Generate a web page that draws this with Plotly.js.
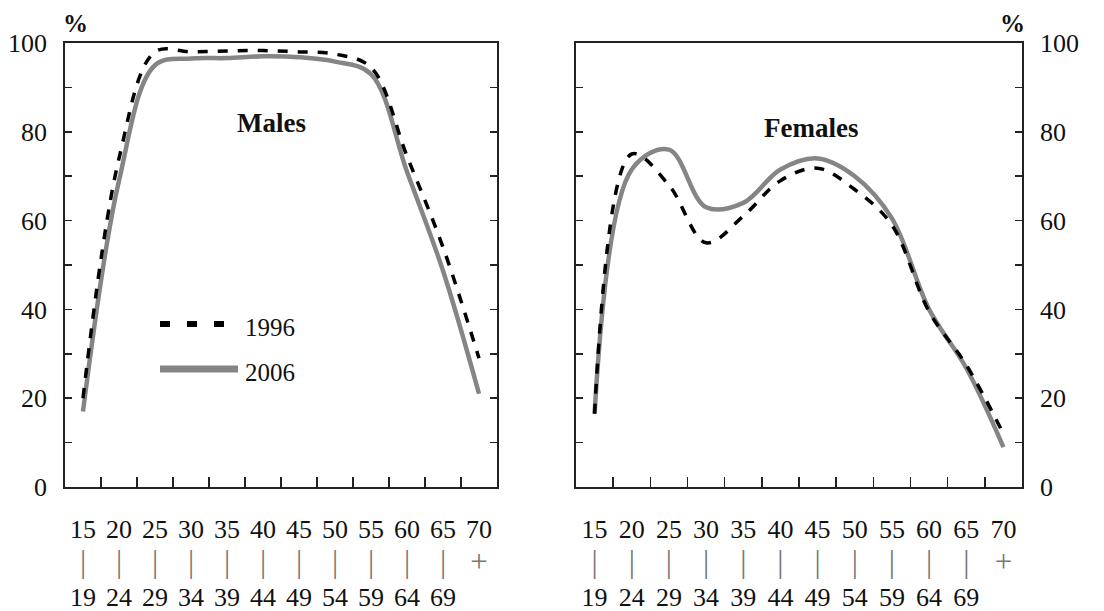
<!DOCTYPE html>
<html><head><meta charset="utf-8">
<script src="https://cdn.plot.ly/plotly-3.0.1.min.js"></script>
<style>html,body{margin:0;padding:0;background:#fff}#chart{width:1104px;height:611px}</style>
</head><body><div id="chart"></div>
<script>
// ---- data ----
const ageGroups = ['15-19','20-24','25-29','30-34','35-39','40-44','45-49','50-54','55-59','60-64','65-69','70+'];
const ageFrom = ['15','20','25','30','35','40','45','50','55','60','65','70'];
const ageTo = ['19','24','29','34','39','44','49','54','59','64','69',''];
const males1996 = [20, 74, 98, 98, 98.2, 98.3, 98, 97.5, 94.5, 74.5, 54, 29];
const males2006 = [17, 69, 95, 96.5, 96.6, 97, 96.8, 95.8, 93, 71, 48.7, 21];
const females1996 = [16.5, 75, 68, 55, 61, 69, 71.8, 67, 59, 39.5, 27.5, 12];
const females2006 = [16.5, 71.5, 76, 63, 64, 71.5, 74, 70, 60.5, 40, 26.8, 9];
const years = ['1996', '2006'];
const panelTitles = ['Males', 'Females'];
const yTicks = [0, 20, 40, 60, 80, 100];

// ---- build ----
const W = 1104, H = 611;
const px = v => v / W, py = v => 1 - v / H;
const ticktext = ageFrom.map((a, i) =>
  a + '<br><span style="color:#777;font-size:31px">' + (ageTo[i] ? '|' : '+') + '</span><br>' + (ageTo[i] || ' '));

const serif = 'Liberation Serif, Times New Roman, serif';
const gray = '#858585';
const dashStyle = {color: '#000', width: 3.5, dash: '10px,10px', shape: 'spline', smoothing: 1};
const solidStyle = {color: gray, width: 4.5, shape: 'spline', smoothing: 1};

const traces = [
  {x: ageGroups, y: males2006, name: years[1], mode: 'lines', line: solidStyle, xaxis: 'x', yaxis: 'y'},
  {x: ageGroups, y: males1996, name: years[0], mode: 'lines', line: dashStyle, xaxis: 'x', yaxis: 'y'},
  {x: ageGroups, y: females2006, name: years[1], mode: 'lines', line: solidStyle, xaxis: 'x2', yaxis: 'y2'},
  {x: ageGroups, y: females1996, name: years[0], mode: 'lines', line: dashStyle, xaxis: 'x2', yaxis: 'y2'}
];

function xAxis(d0, d1, anchor) {
  return {
    domain: [px(d0), px(d1)], anchor: anchor, type: 'category',
    range: [-0.5, 11.5], tickson: 'boundaries',
    tickmode: 'array', tickvals: ageGroups, ticktext: ticktext,
    ticks: 'inside', ticklen: 10, tickwidth: 1.5, tickcolor: '#222',
    showline: true, linecolor: '#222', linewidth: 1.8, mirror: true,
    showgrid: false, zeroline: false, fixedrange: true,
    tickfont: {family: serif, size: 26, color: '#111'}, ticklabelstandoff: 18
  };
}
function yAxis(anchor, side) {
  return {
    domain: [1 - 487 / H, 1 - 43 / H], anchor: anchor, side: side,
    range: [0, 100], tickmode: 'array', tickvals: yTicks,
    ticks: 'inside', ticklen: 7, tickwidth: 1.5, tickcolor: '#222',
    minor: {dtick: 10, tick0: 0, ticks: 'inside', ticklen: 7, tickwidth: 1.5, tickcolor: '#222'},
    showline: true, linecolor: '#222', linewidth: 1.8, mirror: 'ticks',
    showgrid: false, zeroline: false, fixedrange: true,
    tickfont: {family: serif, size: 26, color: '#111'}, ticklabelstandoff: 11
  };
}

const layout = {
  width: W, height: H, margin: {l: 0, r: 0, t: 0, b: 0},
  paper_bgcolor: '#fff', plot_bgcolor: '#fff', showlegend: false,
  xaxis: xAxis(65, 497, 'y'), yaxis: yAxis('x', 'left'),
  xaxis2: xAxis(576, 1022, 'y2'), yaxis2: yAxis('x2', 'right'),
  annotations: [
    {text: '<b>' + panelTitles[0] + '</b>', x: px(271), y: py(123), xref: 'paper', yref: 'paper', showarrow: false,
     xanchor: 'center', yanchor: 'middle', font: {family: serif, size: 27, color: '#111'}},
    {text: '<b>' + panelTitles[1] + '</b>', x: px(811), y: py(128), xref: 'paper', yref: 'paper', showarrow: false,
     xanchor: 'center', yanchor: 'middle', font: {family: serif, size: 27, color: '#111'}},
    {text: '<b>%</b>', x: px(75), y: py(23), xref: 'paper', yref: 'paper', showarrow: false,
     xanchor: 'center', yanchor: 'middle', font: {family: serif, size: 25, color: '#111'}},
    {text: '<b>%</b>', x: px(1012), y: py(23), xref: 'paper', yref: 'paper', showarrow: false,
     xanchor: 'center', yanchor: 'middle', font: {family: serif, size: 25, color: '#111'}},
    {text: years[0], x: px(243), y: py(327), xref: 'paper', yref: 'paper', showarrow: false,
     xanchor: 'left', yanchor: 'middle', font: {family: serif, size: 25, color: '#111'}},
    {text: years[1], x: px(243), y: py(372), xref: 'paper', yref: 'paper', showarrow: false,
     xanchor: 'left', yanchor: 'middle', font: {family: serif, size: 25, color: '#111'}}
  ],
  shapes: [
    {type: 'line', xref: 'paper', yref: 'paper', x0: px(160), x1: px(224), y0: py(324), y1: py(324),
     line: {color: '#000', width: 6, dash: '10px,17px'}},
    {type: 'line', xref: 'paper', yref: 'paper', x0: px(160), x1: px(238), y0: py(369), y1: py(369),
     line: {color: gray, width: 7}}
  ]
};

Plotly.newPlot('chart', traces, layout, {displayModeBar: false, staticPlot: true});
</script>
</body></html>
